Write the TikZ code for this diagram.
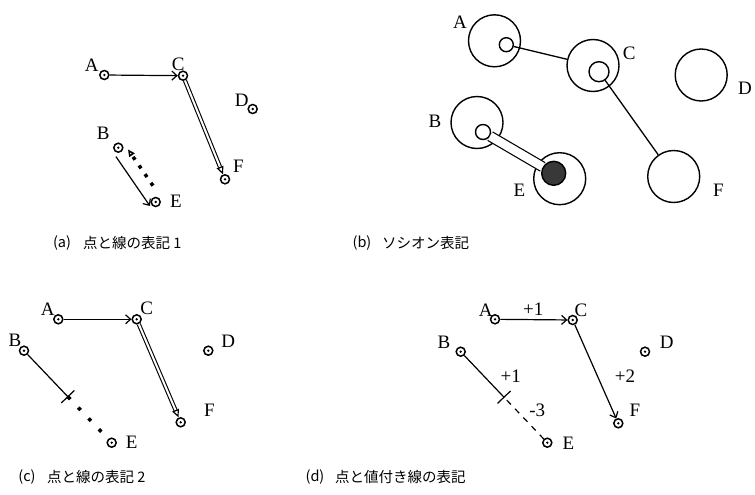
\documentclass[tikz,border=0pt]{standalone}
\usepackage{fontspec}
\setmainfont{Liberation Serif}
\newfontfamily\jpfont{Noto Sans CJK JP}
\usetikzlibrary{arrows.meta,calc}
\begin{document}
\begin{tikzpicture}[x=1pt,y=-1pt,
  mk/.style={circle,draw,line width=1.5pt,minimum size=9pt,inner sep=0pt,
    path picture={\fill (path picture bounding box.center) circle (1.3pt);}},
  lbl/.style={font=\fontsize{19}{19}\selectfont,inner sep=0pt},
  captext/.style={font={\jpfont\fontsize{14.5}{16}\selectfont},inner sep=0pt},
  thinln/.style={line width=1.2pt},
  barb/.style={thinln,-{Straight Barb[length=5pt,width=9pt]}},
  dblline/.style={double,double distance=2pt,line width=1.1pt},
  hollow/.style={line width=1.2pt,-{Triangle[open,length=8pt,width=7pt]}},
  sqdash/.style={line width=3.5pt,dash pattern=on 3.5pt off 7pt},
  big/.style={circle,draw,line width=1.4pt,minimum size=52pt,inner sep=0pt},
  sm/.style={circle,draw,line width=1.4pt,inner sep=0pt},
]
\useasboundingbox (0,0) rectangle (755,495);

% ---------- (a)
\node[mk] (aA) at (104.3,75) {};
\node[mk] (aC) at (183,75.7) {};
\node[mk] (aD) at (252.7,109) {};
\node[mk] (aB) at (118.3,147.7) {};
\node[mk] (aE) at (155.7,202) {};
\node[mk] (aF) at (225,179.3) {};
\node[lbl] (laA) at (91.7,65) {A};
\node[lbl] (laC) at (178.3,64) {C};
\node[lbl] (laD) at (241.7,100) {D};
\node[lbl] (laB) at (103.3,133.3) {B};
\node[lbl] (laE) at (176,201.7) {E};
\node[lbl] (laF) at (238.3,166.7) {F};
\draw[barb] (aA) -- (aC);
\draw[dblline,shorten >=8pt] (aC) -- (aF);
\draw[hollow] ($(aF.center)!13pt!(aC)$) -- (aF);
\coordinate (aBq) at ($(aB)!6pt!(aE)$);
\coordinate (aB1) at ($(aBq)!7pt!-90:(aE)$);
\coordinate (aE1) at ($(aE)!7pt!90:(aB)$);
\draw[barb] (aB1) -- (aE1);
\coordinate (aEq) at ($(aE)!15pt!(aB)$);
\coordinate (aE2) at ($(aEq)!7pt!-90:(aB)$);
\coordinate (aBp) at ($(aB)!7pt!(aE)$);
\coordinate (aB2) at ($(aBp)!7pt!90:(aE)$);
\draw[sqdash,-{Triangle[open,length=7pt,width=6.5pt,line width=1.5pt]}] (aE2) -- (aB2);

% ---------- (b)
\node[big] (bA) at (494.5,40.8) {};
\node[sm,minimum size=14pt] (bAs) at (506.3,44.7) {};
\node[big] (bC) at (593,65.5) {};
\node[sm,minimum size=20pt] (bCs) at (599,71.7) {};
\node[big] (bD) at (701.2,75) {};
\node[big] (bB) at (477,122.5) {};
\node[sm,minimum size=15pt] (bBs) at (483,132) {};
\node[big] (bE) at (559.7,178.7) {};
\node[sm,fill=black!78,minimum size=24pt] (bEs) at (553.7,173.3) {};
\node[big] (bF) at (673.7,176.5) {};
\node[lbl] (lbA) at (460,22.7) {A};
\node[lbl] (lbC) at (629.3,53.3) {C};
\node[lbl] (lbD) at (745,88.3) {D};
\node[lbl] (lbB) at (435,121.7) {B};
\node[lbl] (lbE) at (519.3,190) {E};
\node[lbl] (lbF) at (718.3,190) {F};
\draw[line width=1.3pt] (bAs) -- (bC);
\draw[line width=1.3pt] (bCs) -- (bF);
\draw[line width=1.2pt,double,double distance=8.5pt] (bBs) -- (bEs);

% ---------- (c)
\node[mk] (cA) at (58.3,319.3) {};
\node[mk] (cC) at (136.7,319.3) {};
\node[mk] (cD) at (208.3,350.7) {};
\node[mk] (cB) at (24,350.7) {};
\node[mk] (cE) at (111.7,442.7) {};
\node[mk] (cF) at (180.7,422.3) {};
\node[lbl] (lcA) at (47.7,309.3) {A};
\node[lbl] (lcC) at (146.7,308.3) {C};
\node[lbl] (lcD) at (228.3,341.7) {D};
\node[lbl] (lcB) at (15,340.7) {B};
\node[lbl] (lcE) at (131.7,442.7) {E};
\node[lbl] (lcF) at (209.3,410) {F};
\draw[barb] (cA) -- (cC);
\draw[dblline,shorten >=8pt] (cC) -- (cF);
\draw[hollow] ($(cF.center)!13pt!(cC)$) -- (cF);
\coordinate (cM) at ($(cB)!0.5!(cE)$);
\coordinate (cT1) at ($(cM)!9pt!90:(cB)$);
\coordinate (cT2) at ($(cM)!9pt!-90:(cB)$);
\draw[thinln] (cT1) -- (cT2);
\draw[thinln] (cB) -- (cM);
\draw[sqdash,dash pattern=on 3.5pt off 11.5pt,shorten >=6pt] (cM) -- (cE);

% ---------- (d)
\node[mk] (dA) at (495,319.3) {};
\node[mk] (dC) at (572.7,320) {};
\node[mk] (dD) at (645,351.7) {};
\node[mk] (dB) at (460.7,351.7) {};
\node[mk] (dE) at (547.3,442.7) {};
\node[mk] (dF) at (618.3,423.3) {};
\node[lbl] (ldA) at (485.7,310) {A};
\node[lbl] (ldC) at (581,310) {C};
\node[lbl] (ldD) at (666.7,342.7) {D};
\node[lbl] (ldB) at (444,342.7) {B};
\node[lbl] (ldE) at (568.3,443.3) {E};
\node[lbl] (ldF) at (635,410) {F};
\node[lbl] (vAC) at (533.3,309.3) {+1};
\node[lbl] (vCF) at (625,376.7) {+2};
\node[lbl] (vBM) at (510.7,376.7) {+1};
\node[lbl] (vME) at (537.3,410.7) {-3};
\draw[barb] (dA) -- (dC);
\draw[barb] (dC) -- (dF);
\coordinate (dM) at ($(dB)!0.5!(dE)$);
\coordinate (dT1) at ($(dM)!9pt!90:(dB)$);
\coordinate (dT2) at ($(dM)!9pt!-90:(dB)$);
\draw[thinln] (dT1) -- (dT2);
\draw[thinln] (dB) -- (dM);
\draw[thinln,dash pattern=on 6pt off 6pt,shorten <=4pt] (dM) -- (dE);

% ---------- captions
\node[captext] (capa1) at (62,243) {(a)};
\node[captext,anchor=west] (capa2) at (83,243) {点と線の表記 1};
\node[captext] (capb1) at (362,243) {(b)};
\node[captext,anchor=west] (capb2) at (382,243) {ソシオン表記};
\node[captext] (capc1) at (27,477) {(c)};
\node[captext,anchor=west] (capc2) at (47,477) {点と線の表記 2};
\node[captext] (capd1) at (315,477) {(d)};
\node[captext,anchor=west] (capd2) at (335,477) {点と値付き線の表記};
\end{tikzpicture}
\end{document}
